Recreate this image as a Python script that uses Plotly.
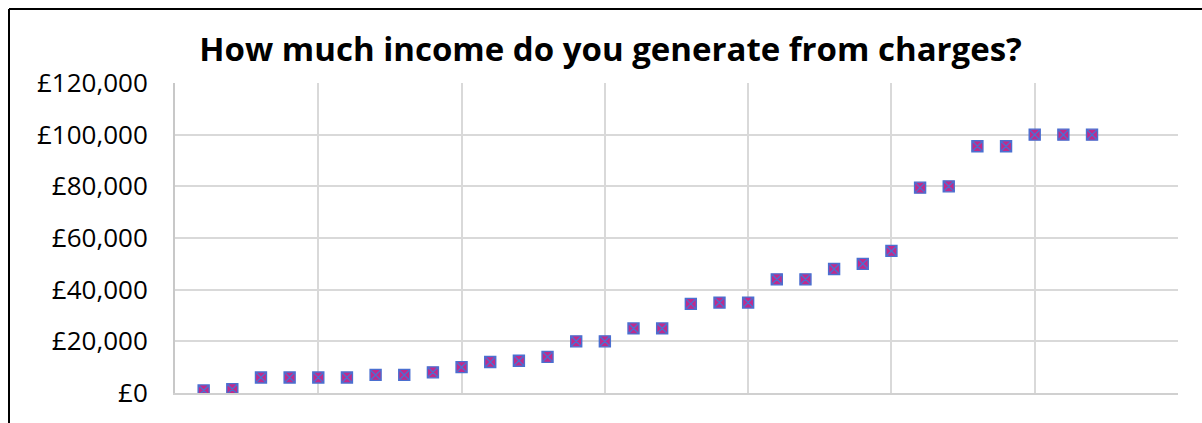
import plotly.graph_objects as go

# Respondent rank (sorted ascending by income) and reported income from charges (£)
respondent = list(range(1, 33))
income = [1000, 1500, 6000, 6000, 6000, 6000, 7000, 7000, 8000, 10000,
          12000, 12500, 14000, 20000, 20000, 25000, 25000, 34500, 35000, 35000,
          44000, 44000, 48000, 50000, 55000, 79500, 80000, 95500, 95500, 100000,
          100000, 100000]

y_ticks = [0, 20000, 40000, 60000, 80000, 100000, 120000]

W, H = 1202, 423
ML, MR, MT, MB = 175, 24, 83, 30

fig = go.Figure(go.Scatter(
    x=respondent, y=income, mode="markers",
    marker=dict(symbol="square-x", size=11, color="#C02A8C",
                line=dict(color="#4B6FD0", width=1.4)),
    hoverinfo="skip",
))

fig.update_layout(
    width=W, height=H,
    margin=dict(l=ML, r=MR, t=MT, b=MB, pad=0),
    paper_bgcolor="white", plot_bgcolor="white",
    showlegend=False,
    separators=".,",
    title=dict(text="<b>How much income do you generate from charges?</b>",
               x=0.508, xanchor="center", y=1 - 49 / H, yanchor="middle",
               font=dict(family="Open Sans", size=33, color="black")),
    font=dict(family="Open Sans", color="black"),
)

fig.update_xaxes(range=[0, 35], dtick=5, tick0=0, showticklabels=False,
                 showgrid=True, gridcolor="#D9D9D9", gridwidth=2,
                 zeroline=False, showline=True, linecolor="#D0D0D0", linewidth=2,
                 mirror=False, ticks="")
fig.update_yaxes(range=[0, 120000], tickvals=y_ticks,
                 ticktext=[f"£{v:,}" for v in y_ticks],
                 showgrid=True, gridcolor="#D9D9D9", gridwidth=2,
                 zeroline=False, showline=True, linecolor="#C8C8C8", linewidth=2,
                 ticks="", ticklabelstandoff=20,
                 tickfont=dict(family="Open Sans", size=26, color="black"))

# Outer frame: black rule along the top and left edges of the chart box
pw, ph = W - ML - MR, H - MT - MB
x_left = (9 - ML) / pw
x_right = (W + 5 - ML) / pw
y_top = (H - MB - 9) / ph
y_bot = -(MB + 5) / ph
fig.add_shape(type="line", xref="paper", yref="paper",
              x0=x_left, x1=x_right, y0=y_top, y1=y_top,
              line=dict(color="black", width=2))
fig.add_shape(type="line", xref="paper", yref="paper",
              x0=x_left, x1=x_left, y0=y_top, y1=y_bot,
              line=dict(color="black", width=2))

fig.write_html("out.html")
